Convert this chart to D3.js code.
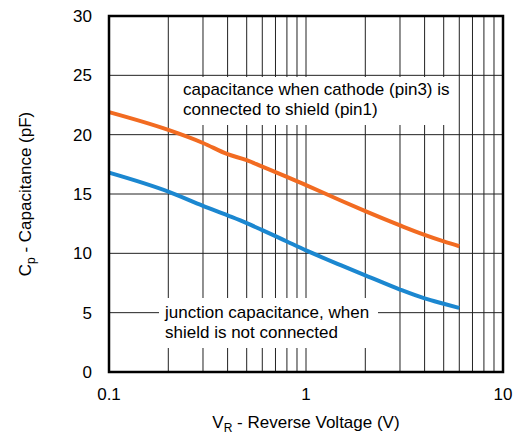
<!DOCTYPE html>
<html>
<head>
<meta charset="utf-8">
<script src="https://cdn.jsdelivr.net/npm/d3@7"></script>
<style>
  body { margin: 0; background: #fff; }
  svg text { font-family: "Liberation Sans", Arial, sans-serif; fill: #000; }
</style>
</head>
<body>
<svg id="chart"></svg>
<script>
const width = 517;
const height = 435;

// data
const voltage = [0.1, 0.2, 0.3, 0.4, 0.5, 0.6, 0.7, 0.8, 1, 1.5, 2, 3, 4, 5, 6];
const capShield = [21.9, 20.4, 19.3, 18.35, 17.85, 17.3, 16.85, 16.45, 15.75, 14.45, 13.55, 12.35, 11.55, 11.0, 10.6];
const capJunction = [16.8, 15.2, 14.0, 13.2, 12.55, 11.95, 11.45, 11.0, 10.25, 9.0, 8.15, 6.95, 6.2, 5.75, 5.4];

const xTicks = [0.1, 1, 10];
const xTickLabels = ["0.1", "1", "10"];
const yTicks = [0, 5, 10, 15, 20, 25, 30];
const xGrid = [0.2, 0.3, 0.4, 0.5, 0.6, 0.7, 0.8, 0.9, 1, 2, 3, 4, 5, 6, 7, 8, 9];

const labelShield = ["capacitance when cathode (pin3) is", "connected to shield (pin1)"];
const labelJunction = ["junction capacitance, when", "shield is not connected"];

const margin = { top: 16, right: 14, bottom: 63, left: 109 };
const w = width - margin.left - margin.right;
const h = height - margin.top - margin.bottom;

const svg = d3.select("#chart")
  .attr("width", width)
  .attr("height", height);

const g = svg.append("g")
  .attr("transform", `translate(${margin.left},${margin.top})`);

const x = d3.scaleLog().domain([0.1, 10]).range([0, w]);
const y = d3.scaleLinear().domain([0, 30]).range([h, 0]);

// grid
g.selectAll(".vgrid")
  .data(xGrid)
  .enter().append("line")
  .attr("x1", d => x(d)).attr("x2", d => x(d))
  .attr("y1", 0).attr("y2", h)
  .attr("stroke", "#222").attr("stroke-width", 1);

g.selectAll(".hgrid")
  .data(yTicks.slice(1, -1))
  .enter().append("line")
  .attr("x1", 0).attr("x2", w)
  .attr("y1", d => y(d)).attr("y2", d => y(d))
  .attr("stroke", "#222").attr("stroke-width", 1);

// annotation boxes (white, hide the grid)
const notes = [
  { lines: labelShield, box: [65, 61, 282, 48], tx: 74, ty: 79 },
  { lines: labelJunction, box: [50, 282, 219, 50], tx: 56, ty: 302 }
];

notes.forEach(n => {
  g.append("rect")
    .attr("x", n.box[0]).attr("y", n.box[1])
    .attr("width", n.box[2]).attr("height", n.box[3])
    .attr("fill", "#fff");
  const t = g.append("text")
    .attr("x", n.tx).attr("y", n.ty)
    .attr("font-size", 17);
  n.lines.forEach((l, i) => {
    t.append("tspan").attr("x", n.tx).attr("dy", i === 0 ? 0 : 20).text(l);
  });
});

// curves
const line = d3.line()
  .x((d, i) => x(voltage[i]))
  .y(d => y(d))
  .curve(d3.curveMonotoneX);

g.append("path")
  .datum(capShield)
  .attr("d", line)
  .attr("fill", "none")
  .attr("stroke", "#f26b21")
  .attr("stroke-width", 4);

g.append("path")
  .datum(capJunction)
  .attr("d", line)
  .attr("fill", "none")
  .attr("stroke", "#1b87d0")
  .attr("stroke-width", 4);

// frame
g.append("rect")
  .attr("x", 0).attr("y", 0)
  .attr("width", w).attr("height", h)
  .attr("fill", "none")
  .attr("stroke", "#000")
  .attr("stroke-width", 2.5);

// tick labels
g.selectAll(".ylab")
  .data(yTicks)
  .enter().append("text")
  .attr("x", -17)
  .attr("y", d => y(d))
  .attr("dy", "0.35em")
  .attr("text-anchor", "end")
  .attr("font-size", 17)
  .text(d => d);

g.selectAll(".xlab")
  .data(xTicks)
  .enter().append("text")
  .attr("x", d => x(d))
  .attr("y", h + 28)
  .attr("text-anchor", "middle")
  .attr("font-size", 17)
  .text((d, i) => xTickLabels[i]);

// axis titles
const xt = svg.append("text")
  .attr("x", margin.left + w / 2)
  .attr("y", 428)
  .attr("text-anchor", "middle")
  .attr("font-size", 17);
xt.append("tspan").text("V");
xt.append("tspan").attr("font-size", 12).attr("dy", 4).text("R");
xt.append("tspan").attr("dy", -4).text(" - Reverse Voltage (V)");

const yt = svg.append("text")
  .attr("transform", `translate(31,${margin.top + h / 2}) rotate(-90)`)
  .attr("text-anchor", "middle")
  .attr("font-size", 17);
yt.append("tspan").text("C");
yt.append("tspan").attr("font-size", 12).attr("dy", 4).text("p");
yt.append("tspan").attr("dy", -4).text(" - Capacitance (pF)");
</script>
</body>
</html>
